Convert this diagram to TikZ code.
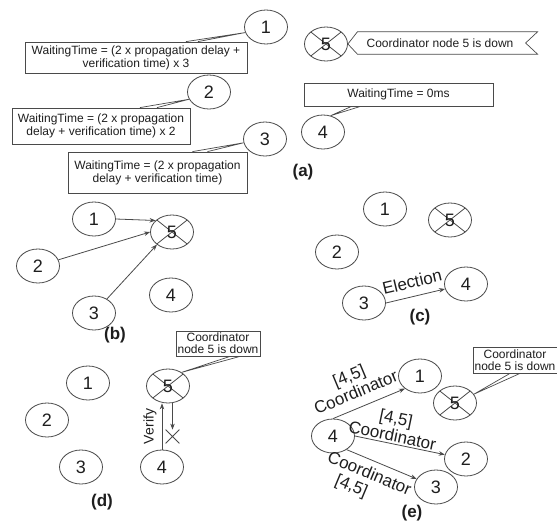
\documentclass[tikz,border=0pt]{standalone}
\usepackage{fontspec}
\setmainfont{Liberation Sans}
\usetikzlibrary{shapes.geometric,shapes.misc,arrows.meta}
\definecolor{ink}{HTML}{1E1E1E}
\definecolor{lineclr}{HTML}{4A4A4A}

\tikzset{
  proc/.style={ellipse, draw=lineclr, line width=0.8pt, minimum width=43pt,
    minimum height=34pt, inner sep=0pt, text=ink, font=\fontsize{18}{18}\selectfont},
  failed/.style={proc, path picture={\draw[lineclr, line width=0.8pt]
      (path picture bounding box.north west) -- (path picture bounding box.south east)
      (path picture bounding box.north east) -- (path picture bounding box.south west);}},
  note/.style={rectangle, draw=lineclr, line width=0.8pt, fill=white, text=ink,
    align=center, inner sep=1pt, font=\fontsize{12}{13}\selectfont},
  pointer/.style={draw=lineclr, line width=0.7pt},
  conn/.style={draw=lineclr, line width=0.8pt, -{Stealth[length=6pt,width=4.5pt]}},
  elabel/.style={text=ink, align=center, inner sep=1pt, sloped,
    font=\fontsize{17}{18}\selectfont},
  tag/.style={text=ink, font=\bfseries\fontsize{17}{17}\selectfont}
}

\begin{document}
\begin{tikzpicture}[x=1pt, y=-1pt]
\useasboundingbox (0,0) rectangle (557,522);

% ---------- (a) waiting times ----------
\node[proc]   (a1) at (266,27)  {1};
\node[failed] (a5) at (326,44)  {5};
\node[proc]   (a2) at (209,92)  {2};
\node[proc]   (a3) at (265,139) {3};
\node[proc]   (a4) at (323,132) {4};

\node[note, minimum width=222pt, minimum height=31pt] (w1) at (136,57.5)
  {WaitingTime = (2 x propagation delay +\\verification time) x 3};
\node[note, minimum width=178pt, minimum height=36pt] (w2) at (101,126)
  {WaitingTime = (2 x propagation\\delay + verification time) x 2};
\node[note, minimum width=179pt, minimum height=41pt] (w3) at (157.5,172.5)
  {WaitingTime = (2 x propagation\\delay + verification time)};
\node[note, minimum width=189pt, minimum height=23pt] (w4) at (398.5,94.5)
  {WaitingTime = 0ms};

\draw[pointer] ([xshift=50pt]w1.north) -- (a1.195) -- ([xshift=62pt]w1.north);
\draw[pointer] ([xshift=39pt]w2.north) -- (a2.200) -- ([xshift=56pt]w2.north);
\draw[pointer] ([xshift=35pt]w3.north) -- (a3.190) -- ([xshift=50pt]w3.north);
\draw[pointer] ([xshift=-47pt]w4.south) -- (a4.65) -- ([xshift=-38pt]w4.south);

\node[text=ink, font=\fontsize{12}{13}\selectfont, inner xsep=9pt, inner ysep=0pt,
  minimum height=22pt] (cb) at (440,43) {Coordinator node 5 is down};
\draw[pointer] (a5.east) -- (cb.north west) -- ([xshift=15pt]cb.north east)
  -- ([xshift=3pt]cb.east) -- ([xshift=15pt]cb.south east) -- (cb.south west) -- cycle;

\node[tag] (ta) at (303,172) {(a)};

% ---------- (b) processes contact the coordinator ----------
\node[proc]   (b1) at (94,219)  {1};
\node[proc]   (b2) at (38,266)  {2};
\node[proc]   (b3) at (94,313)  {3};
\node[proc]   (b4) at (171,295) {4};
\node[failed] (b5) at (172,232) {5};
\draw[conn] (b1.east) -- (b5.145);
\draw[conn] (b2) -- (b5.west);
\draw[conn] (b3) -- (b5.220);
\node[tag] (tb) at (115,335) {(b)};

% ---------- (c) election message ----------
\node[proc]   (c1) at (385,209) {1};
\node[proc]   (c2) at (337,252) {2};
\node[proc]   (c3) at (364,303) {3};
\node[proc]   (c4) at (466,284) {4};
\node[failed] (c5) at (450,220) {5};
\draw[conn] (c3.east) -- (c4) node[elabel, midway, above=7pt] {Election};
\node[tag] (tc) at (420,317) {(c)};

% ---------- (d) verification of the coordinator ----------
\node[proc]   (d1) at (88,383)  {1};
\node[proc]   (d2) at (47,420)  {2};
\node[proc]   (d3) at (81,467)  {3};
\node[proc]   (d4) at (162,467) {4};
\node[failed] (d5) at (168,386) {5};
\node[note, minimum width=84pt, minimum height=25pt, font=\fontsize{12}{12}\selectfont]
  (dn) at (218,343.5) {Coordinator\\node 5 is down};
\draw[pointer] ([xshift=12pt]dn.south) -- (d5.45) -- ([xshift=22pt]dn.south);
\draw[conn] (d4.north) -- (d4.north |- d5.south)
  node[elabel, midway, above=4pt, font=\fontsize{14}{14}\selectfont] {Verify};
\node[cross out, draw=lineclr, line width=0.8pt, minimum size=13pt, inner sep=0pt]
  (dX) at (172.5,436.5) {};
\draw[conn] (d5.south -| dX) -- (dX.north);
\node[tag] (td) at (102,502) {(d)};

% ---------- (e) coordinator announcement ----------
\node[proc]   (e1) at (420,376) {1};
\node[proc]   (e2) at (466,459) {2};
\node[proc]   (e3) at (436,487) {3};
\node[proc]   (e4) at (333,436) {4};
\node[failed] (e5) at (455,403) {5};
\node[note, minimum width=84pt, minimum height=26pt, font=\fontsize{12}{12}\selectfont]
  (en) at (515,360) {Coordinator\\node 5 is down};
\draw[pointer] ([xshift=-5pt]en.south) -- (e5.25) -- ([xshift=5pt]en.south);
\draw[conn] (e4.north) -- (e1.220)
  node[elabel, pos=0.4, above=8pt] {{[4,5]}\\Coordinator};
\draw[conn] (e4.east) -- (e2)
  node[elabel, pos=0.4, above=0.5pt] {{[4,5]}\\Coordinator};
\draw[conn] (e4.-45) -- (e3)
  node[elabel, pos=0.4, below=5pt, align=left] {Coordinator\\\hspace*{16pt}{[4,5]}};
\node[tag] (te) at (412,513) {(e)};
\end{tikzpicture}
\end{document}
